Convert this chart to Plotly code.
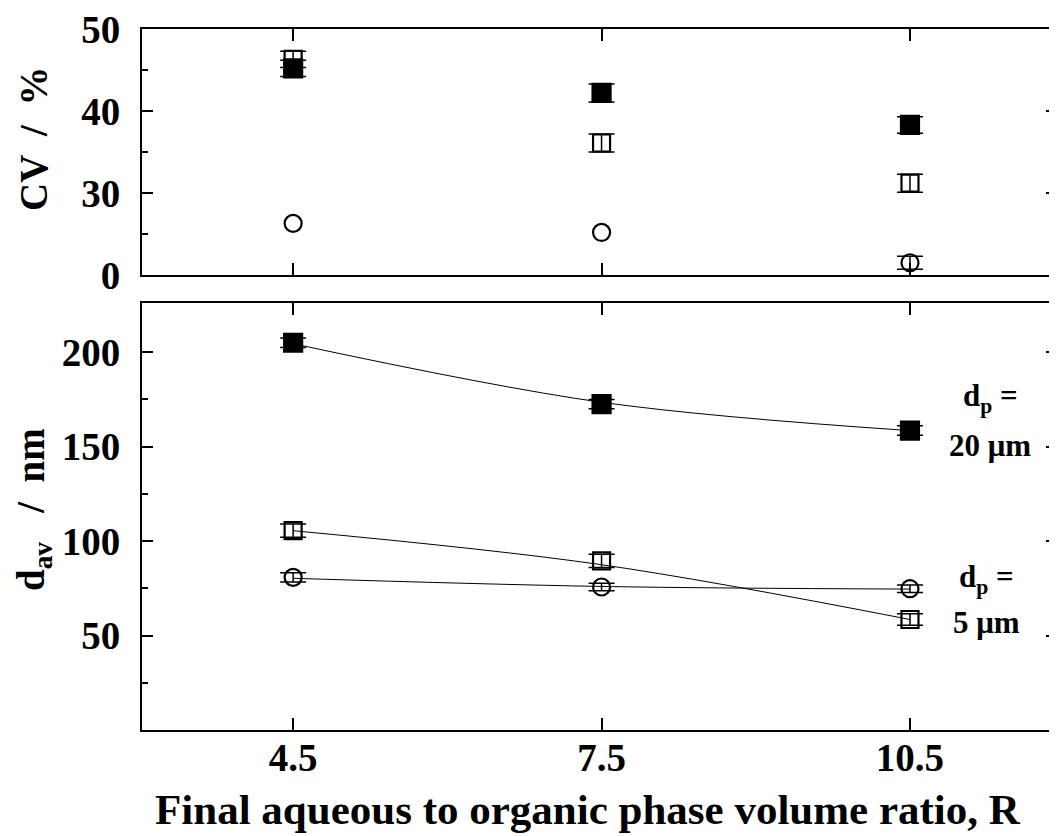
import plotly.graph_objects as go

# ---- data ----
R = [4.5, 7.5, 10.5]

# top panel: CV / %  (axis units as drawn; bottom of axis labelled "0")
cv_20um_sq = [45.2, 42.2, 38.3]
cv_20um_sq_err = [1.0, 1.1, 1.0]
cv_5um_sq = [46.3, 36.1, 31.2]
cv_5um_sq_err = [1.0, 1.1, 1.1]
cv_5um_circ = [26.3, 25.2, 21.5]
cv_5um_circ_err = [None, None, 0.8]

# bottom panel: d_av / nm
d_20um_sq = [205.0, 172.5, 158.5]
d_20um_sq_err = [2.5, 2.5, 2.5]
d_5um_sq = [105.5, 89.5, 58.5]
d_5um_sq_err = [3.5, 3.5, 3.0]
d_5um_circ = [80.8, 75.7, 74.8]
d_5um_circ_err = [2.5, 2.0, 2.0]

# fitted curves
fit_20um_sq = [204.5, 173.5, 158.5]
fit_5um_sq = [105.5, 87.5, 58.5]
fit_5um_circ = [80.3, 76.0, 74.6]

top_tickvals = [20, 30, 40, 50]
top_ticktext = ["0", "30", "40", "50"]
bot_tickvals = [50, 100, 150, 200]
x_tickvals = [4.5, 7.5, 10.5]

FONT = "Liberation Serif"
W, H = 1049, 828          # page has an 8px body margin
ML, MT, MB = 134, 21, 106
PW, PH = W - ML, H - MT - MB
OFF = 8

def px_x(page_x):
    return (page_x - OFF - ML) / PW

def px_y(page_y):
    return (H - MB - (page_y - OFF)) / PH

fig = go.Figure()

def err(vals):
    return dict(type="data", array=vals, visible=True, color="black",
                thickness=1.5, width=13)

# fitted lines (bottom)
for fy in (fit_20um_sq, fit_5um_sq, fit_5um_circ):
    fig.add_trace(go.Scatter(x=R, y=fy, mode="lines", xaxis="x2", yaxis="y2",
                             line=dict(color="black", width=1, shape="spline"),
                             showlegend=False, hoverinfo="skip"))

def pts(y, e, sym, xa, ya):
    filled = "open" not in sym
    marker = dict(symbol=sym, size=18 if filled else 17, color="black",
                  line=dict(color="black", width=2.2))
    # error bars only where a value exists
    idx = [i for i, v in enumerate(e) if v is not None]
    fig.add_trace(go.Scatter(
        x=[R[i] for i in idx], y=[y[i] for i in idx], mode="markers",
        xaxis=xa, yaxis=ya, error_y=err([e[i] for i in idx]),
        marker=dict(marker, opacity=0), showlegend=False, hoverinfo="skip"))
    fig.add_trace(go.Scatter(
        x=R, y=y, mode="markers", xaxis=xa, yaxis=ya, marker=marker,
        showlegend=False))

pts(cv_20um_sq, cv_20um_sq_err, "square", "x", "y")
pts(cv_5um_sq, cv_5um_sq_err, "square-open", "x", "y")
pts(cv_5um_circ, cv_5um_circ_err, "circle-open", "x", "y")
pts(d_20um_sq, d_20um_sq_err, "square", "x2", "y2")
pts(d_5um_sq, d_5um_sq_err, "square-open", "x2", "y2")
pts(d_5um_circ, d_5um_circ_err, "circle-open", "x2", "y2")

tickfont = dict(family=FONT, size=39, color="black", weight="bold")
common_x = dict(range=[3.03, 11.93], tickvals=x_tickvals, ticks="inside", ticklen=12,
                tickwidth=2, tickcolor="black", showline=True, linecolor="black",
                linewidth=2, mirror="ticks", showgrid=False, zeroline=False,
                tickfont=tickfont, ticklabelstandoff=-8, ticklabeloverflow="allow")
common_y = dict(ticks="inside", ticklen=11, tickwidth=2, tickcolor="black",
                showline=True, linecolor="black", linewidth=2, mirror="ticks",
                showgrid=False, zeroline=False, tickfont=tickfont, ticklabelstandoff=12,
                ticklabeloverflow="allow")

fig.update_layout(
    width=W, height=H,
    margin=dict(l=ML, r=0, t=MT, b=MB, autoexpand=False),
    paper_bgcolor="white", plot_bgcolor="white",
    xaxis=dict(common_x, domain=[0, 1], anchor="y", showticklabels=False),
    yaxis=dict(common_y, domain=[0.649, 1.0], anchor="x", range=[20, 50],
               tickvals=top_tickvals, ticktext=top_ticktext,
               minor=dict(ticks="inside", ticklen=6, tickwidth=2, tickcolor="black",
                          tickvals=[25, 35, 45])),
    xaxis2=dict(common_x, domain=[0, 1], anchor="y2"),
    yaxis2=dict(common_y, domain=[0.0, 0.609], anchor="x2", range=[0, 226],
                tickvals=bot_tickvals,
                minor=dict(ticks="inside", ticklen=6, tickwidth=2, tickcolor="black",
                           tickvals=[25, 75, 125, 175])),
)

afont = dict(family=FONT, size=39, color="black", weight="bold")
tfont = dict(family=FONT, size=43, color="black", weight="bold")
lfont = dict(family=FONT, size=31, color="black", weight="bold")
annos = [
    dict(text="CV  /  %", xref="paper", yref="paper", x=px_x(33), y=px_y(139),
         textangle=-90, font=afont),
    dict(text="d<sub>av</sub>   /  nm", xref="paper", yref="paper", x=px_x(33), y=px_y(510),
         textangle=-90, font=afont),
    dict(text="Final aqueous to organic phase volume ratio, R", xref="paper", yref="paper",
         x=px_x(588), y=px_y(809), font=tfont),
    dict(text="d<sub>p</sub> =", xref="x2", yref="y2", x=11.28, y=176, font=lfont),
    dict(text="20 μm", xref="x2", yref="y2", x=11.28, y=150.5, font=lfont),
    dict(text="d<sub>p</sub> =", xref="x2", yref="y2", x=11.24, y=80, font=lfont),
    dict(text="5 μm", xref="x2", yref="y2", x=11.24, y=57, font=lfont),
]
for a in annos:
    a.update(showarrow=False, xanchor="center", yanchor="middle")
fig.update_layout(annotations=annos)

fig.write_html("out.html")
